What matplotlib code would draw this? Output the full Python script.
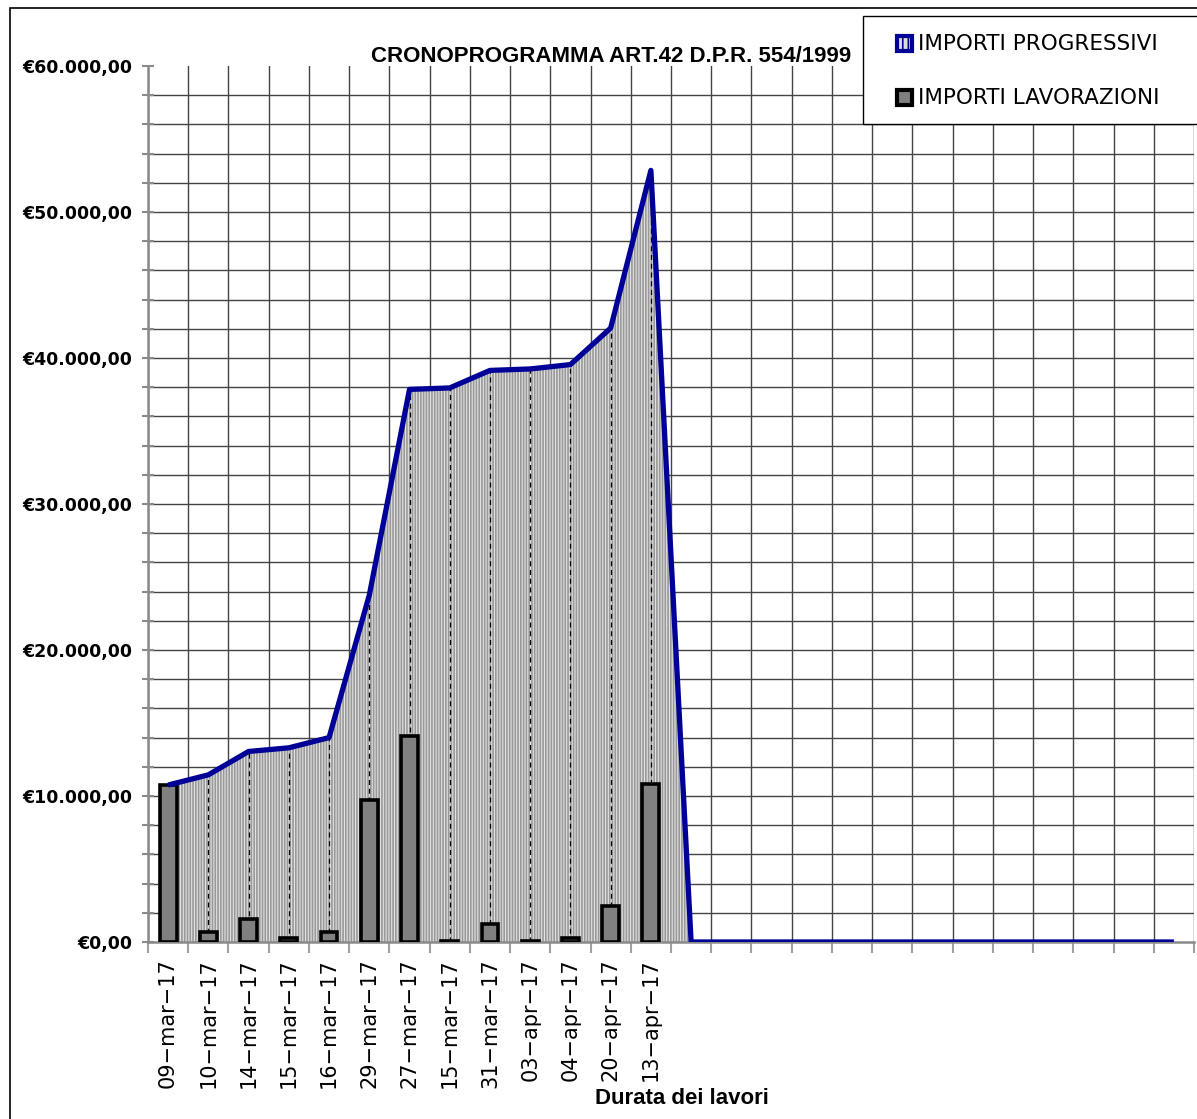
import matplotlib.pyplot as plt
from matplotlib.patches import Rectangle
from matplotlib.ticker import FixedLocator, FuncFormatter
import numpy as np

# date labels of the work phases
dates = ['09-mar-17', '10-mar-17', '14-mar-17', '15-mar-17', '16-mar-17',
         '29-mar-17', '27-mar-17', '15-mar-17', '31-mar-17', '03-apr-17',
         '04-apr-17', '20-apr-17', '13-apr-17']
# importi lavorazioni (bars)
lavorazioni = [10750, 700, 1600, 250, 700, 9750, 14100, 100, 1200, 100, 300, 2500, 10800]
# importi progressivi (cumulative line), incl. empty trailing periods
progressivi = [10750, 11450, 13050, 13300, 14000, 23750, 37850, 37950, 39150,
               39250, 39550, 42050, 52850, 0, 0, 0, 0, 0, 0, 0, 0, 0, 0, 0, 0, 0]

n_cat = len(progressivi)
x = np.arange(n_cat)
xb = np.arange(len(lavorazioni))

plt.rcParams['hatch.linewidth'] = 1.2

fig = plt.figure(figsize=(11.97, 11.19), dpi=100)
ax = fig.add_axes([148 / 1197, 1 - 942 / 1119, (1194 - 148) / 1197, (942 - 66) / 1119])

# cumulative area (only up to the first empty period)
n_area = len(lavorazioni) + 1
ax.fill_between(x[:n_area], progressivi[:n_area], 0, facecolor='#e2e2e2',
                edgecolor='#999999', hatch='||||||', linewidth=0, zorder=2)

# drop lines
ax.vlines(xb, 0, progressivi[:len(xb)], colors='black', linestyles=(0, (4, 3)),
          linewidth=0.9, zorder=3)

ax.bar(xb, lavorazioni, width=0.42, color='#808080', edgecolor='black',
       linewidth=2.6, zorder=4)

ax.plot(x, progressivi, color='#000099', linewidth=3.8, solid_joinstyle='round',
        solid_capstyle='butt', zorder=5)

ax.set_xlim(-0.5, n_cat - 0.5)
ax.set_ylim(0, 60000)

# axes styling
for s in ['top', 'right']:
    ax.spines[s].set_visible(False)
for s in ['left', 'bottom']:
    ax.spines[s].set_color('#8a8a8a')
    ax.spines[s].set_linewidth(1.8)

ax.xaxis.set_major_locator(FixedLocator(xb))
ax.set_xticklabels([d.replace('-', '\u2212') for d in dates], rotation=90,
                   fontsize=15, family='DejaVu Sans')
ax.xaxis.set_minor_locator(FixedLocator(np.arange(n_cat + 1) - 0.5))
ax.tick_params(axis='x', which='major', length=0, pad=12)
ax.tick_params(axis='x', which='minor', length=8, width=1.5, color='#a0a0a0',
               direction='out')

ax.yaxis.set_major_locator(FixedLocator(np.arange(0, 60001, 10000)))
ax.yaxis.set_minor_locator(FixedLocator(np.arange(2000, 60000, 2000)))
ax.yaxis.set_major_formatter(FuncFormatter(
    lambda v, p: '\u20ac' + f'{v:,.2f}'.replace(',', 'X').replace('.', ',').replace('X', '.')))
ax.tick_params(axis='y', which='both', direction='inout', length=9, width=1.5,
               color='#8a8a8a', pad=7)
for lab in ax.get_yticklabels():
    lab.set_fontweight('bold')
    lab.set_fontsize(12.5)

ax.grid(True, which='minor', axis='both', color='#444444', linewidth=1.0, zorder=0)
ax.grid(True, which='major', axis='y', color='#444444', linewidth=1.0, zorder=0)
ax.set_axisbelow(True)
ax.yaxis.get_major_ticks()[-1].gridline.set_visible(False)
ax.yaxis.get_major_ticks()[0].gridline.set_visible(False)

# titles
fig.text(611 / 1197, 1 - 57 / 1119, 'CRONOPROGRAMMA ART.42 D.P.R. 554/1999',
         ha='center', va='center', fontsize=16, fontweight='bold',
         family='Liberation Sans')
fig.text(682 / 1197, 1 - 1098 / 1119, 'Durata dei lavori', ha='center', va='center',
         fontsize=16, fontweight='bold', family='Liberation Sans')

# outer frame
fig.patches.append(Rectangle((10 / 1197, -0.1), 1.2, 1.1 - 8 / 1119,
                             transform=fig.transFigure, fill=False,
                             edgecolor='black', linewidth=1.2))

# legend box
fig.patches.append(Rectangle((863 / 1197, 1 - 124 / 1119), 0.3, 108 / 1119,
                             transform=fig.transFigure, facecolor='white',
                             edgecolor='black', linewidth=1.0, zorder=10))
fig.patches.append(Rectangle((897 / 1197, 1 - 51 / 1119), 15 / 1197, 15 / 1119,
                             transform=fig.transFigure, facecolor='#dcdcdc',
                             edgecolor='#000099', hatch='|||', linewidth=3, zorder=11))
fig.patches.append(Rectangle((897 / 1197, 1 - 105 / 1119), 15 / 1197, 15 / 1119,
                             transform=fig.transFigure, facecolor='#808080',
                             edgecolor='black', linewidth=3, zorder=11))
fig.text(918 / 1197, 1 - 44 / 1119, 'IMPORTI PROGRESSIVI', ha='left', va='center',
         fontsize=15.5, family='DejaVu Sans', zorder=12)
fig.text(918 / 1197, 1 - 98 / 1119, 'IMPORTI LAVORAZIONI', ha='left', va='center',
         fontsize=15.5, family='DejaVu Sans', zorder=12)

fig.savefig('out.png', dpi=100)
